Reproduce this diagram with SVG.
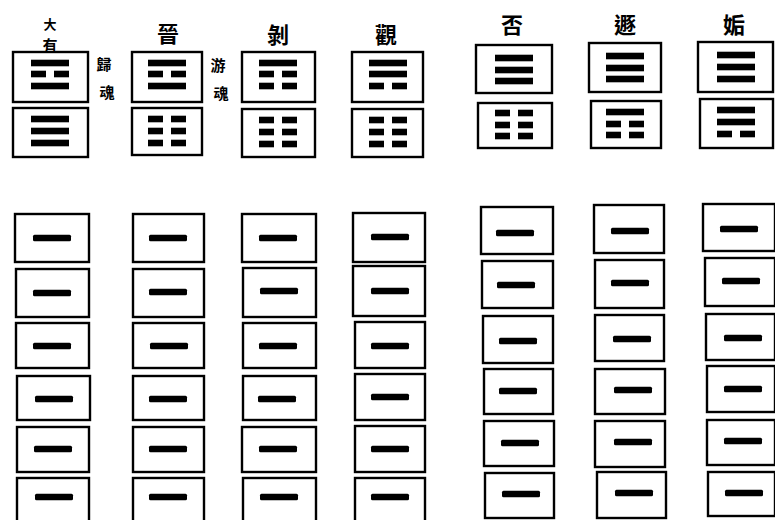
<svg xmlns="http://www.w3.org/2000/svg" width="775" height="520" viewBox="0 0 775 520">
<style>
.box{fill:#fff;stroke:#000;stroke-width:2.4}
.bar{fill:#000}
.t{font-family:"Noto Sans CJK TC","Noto Sans CJK SC",serif;font-weight:bold;fill:#000;text-anchor:middle}
.big{font-size:22px}
.sm{font-size:15px}
</style>
<defs>
<g id="yang"><rect x="-19" y="-3.3" width="38" height="6.6" class="bar"/></g>
<g id="yin"><rect x="-19" y="-3.3" width="15" height="6.6" class="bar"/><rect x="4" y="-3.3" width="15" height="6.6" class="bar"/></g>
<g id="line"><rect x="-19" y="-3.3" width="38" height="6.6" rx="1.5" class="bar"/></g>
</defs>
<rect width="775" height="520" fill="#fff"/>

<!-- labels -->
<g id="labels">
<text class="t" x="50" y="29" style="font-size:13px">大</text>
<text class="t" x="50" y="50.5" style="font-size:15px">有</text>
<text class="t sm" x="104" y="70">歸</text>
<text class="t sm" x="107" y="98">魂</text>
<text class="t big" x="168" y="42">晉</text>
<text class="t sm" x="218" y="71">游</text>
<text class="t sm" x="221" y="99">魂</text>
<text class="t big" x="278" y="43">剝</text>
<text class="t big" x="386" y="43">觀</text>
<text class="t big" x="512" y="33">否</text>
<text class="t big" x="625" y="33">遯</text>
<text class="t big" x="734" y="33">姤</text>
</g>

<!-- upper hexagrams -->
<g id="hex-dayou">
<rect class="box" x="13" y="52" width="75" height="50"/>
<use href="#yang" x="50" y="63"/><use href="#yin" x="50" y="74"/><use href="#yang" x="50" y="86"/>
<rect class="box" x="13" y="108" width="75" height="49"/>
<use href="#yang" x="50" y="119"/><use href="#yang" x="50" y="131"/><use href="#yang" x="50" y="143"/>
</g>
<g id="hex-jin">
<rect class="box" x="132" y="52" width="70" height="50"/>
<use href="#yang" x="167" y="63"/><use href="#yin" x="167" y="74"/><use href="#yang" x="167" y="86"/>
<rect class="box" x="132" y="108" width="70" height="47"/>
<use href="#yin" x="167" y="119"/><use href="#yin" x="167" y="131"/><use href="#yin" x="167" y="143"/>
</g>
<g id="hex-bo">
<rect class="box" x="242" y="52" width="73" height="50"/>
<use href="#yang" x="278" y="63"/><use href="#yin" x="278" y="74"/><use href="#yin" x="278" y="86"/>
<rect class="box" x="242" y="109" width="73" height="48"/>
<use href="#yin" x="278" y="120"/><use href="#yin" x="278" y="132"/><use href="#yin" x="278" y="144"/>
</g>
<g id="hex-guan">
<rect class="box" x="352" y="52" width="71" height="50"/>
<use href="#yang" x="388" y="63"/><use href="#yang" x="388" y="74"/><use href="#yin" x="388" y="86"/>
<rect class="box" x="352" y="109" width="71" height="48"/>
<use href="#yin" x="388" y="120"/><use href="#yin" x="388" y="132"/><use href="#yin" x="388" y="144"/>
</g>
<g id="hex-pi">
<rect class="box" x="476" y="45" width="76" height="48"/>
<use href="#yang" x="514" y="58"/><use href="#yang" x="514" y="70"/><use href="#yang" x="514" y="81"/>
<rect class="box" x="478" y="103" width="74" height="45"/>
<use href="#yin" x="514" y="113"/><use href="#yin" x="514" y="125"/><use href="#yin" x="514" y="136"/>
</g>
<g id="hex-dun">
<rect class="box" x="589" y="43" width="72" height="49"/>
<use href="#yang" x="625" y="56"/><use href="#yang" x="625" y="68"/><use href="#yang" x="625" y="79"/>
<rect class="box" x="591" y="101" width="70" height="47"/>
<use href="#yang" x="625" y="112"/><use href="#yin" x="625" y="124"/><use href="#yin" x="625" y="135"/>
</g>
<g id="hex-gou">
<rect class="box" x="698" y="42" width="75" height="50"/>
<use href="#yang" x="736" y="55"/><use href="#yang" x="736" y="67"/><use href="#yang" x="736" y="79"/>
<rect class="box" x="700" y="99" width="73" height="49"/>
<use href="#yang" x="736" y="110"/><use href="#yang" x="736" y="122"/><use href="#yin" x="736" y="134"/>
</g>

<!-- lower grid columns -->
<g id="col1">
<rect class="box" x="15" y="214" width="74" height="48"/><use href="#line" x="52" y="238"/>
<rect class="box" x="16" y="269" width="73" height="48"/><use href="#line" x="52" y="293"/>
<rect class="box" x="16" y="323" width="73" height="45"/><use href="#line" x="52" y="346"/>
<rect class="box" x="17" y="376" width="73" height="44"/><use href="#line" x="54" y="399"/>
<rect class="box" x="17" y="427" width="72" height="45"/><use href="#line" x="53" y="449"/>
<rect class="box" x="17" y="478" width="72" height="50"/><use href="#line" x="54" y="497"/>
</g>
<g id="col2">
<rect class="box" x="133" y="214" width="71" height="48"/><use href="#line" x="168" y="238"/>
<rect class="box" x="133" y="269" width="71" height="48"/><use href="#line" x="168" y="292"/>
<rect class="box" x="133" y="323" width="71" height="45"/><use href="#line" x="169" y="346"/>
<rect class="box" x="133" y="376" width="71" height="44"/><use href="#line" x="168" y="399"/>
<rect class="box" x="133" y="427" width="71" height="45"/><use href="#line" x="168" y="449"/>
<rect class="box" x="133" y="478" width="71" height="50"/><use href="#line" x="168" y="497"/>
</g>
<g id="col3">
<rect class="box" x="242" y="214" width="74" height="48"/><use href="#line" x="278" y="238"/>
<rect class="box" x="243" y="268" width="73" height="49"/><use href="#line" x="279" y="291"/>
<rect class="box" x="243" y="323" width="73" height="45"/><use href="#line" x="278" y="346"/>
<rect class="box" x="243" y="376" width="73" height="44"/><use href="#line" x="277" y="399"/>
<rect class="box" x="242" y="427" width="74" height="45"/><use href="#line" x="278" y="449"/>
<rect class="box" x="243" y="478" width="73" height="50"/><use href="#line" x="279" y="497"/>
</g>
<g id="col4">
<rect class="box" x="353" y="213" width="72" height="49"/><use href="#line" x="390" y="237"/>
<rect class="box" x="353" y="266" width="72" height="50"/><use href="#line" x="390" y="291"/>
<rect class="box" x="355" y="322" width="70" height="46"/><use href="#line" x="390" y="346"/>
<rect class="box" x="355" y="374" width="70" height="46"/><use href="#line" x="390" y="397"/>
<rect class="box" x="355" y="426" width="70" height="46"/><use href="#line" x="390" y="449"/>
<rect class="box" x="355" y="478" width="70" height="50"/><use href="#line" x="390" y="497"/>
</g>
<g id="col5">
<rect class="box" x="481" y="207" width="72" height="47"/><use href="#line" x="515" y="233"/>
<rect class="box" x="482" y="261" width="71" height="47"/><use href="#line" x="516" y="285"/>
<rect class="box" x="483" y="316" width="70" height="47"/><use href="#line" x="518" y="341"/>
<rect class="box" x="484" y="369" width="69" height="45"/><use href="#line" x="518" y="391"/>
<rect class="box" x="484" y="421" width="70" height="45"/><use href="#line" x="520" y="443"/>
<rect class="box" x="485" y="473" width="69" height="45"/><use href="#line" x="521" y="494"/>
</g>
<g id="col6">
<rect class="box" x="594" y="205" width="70" height="48"/><use href="#line" x="630" y="231"/>
<rect class="box" x="595" y="260" width="69" height="48"/><use href="#line" x="630" y="283"/>
<rect class="box" x="595" y="315" width="69" height="46"/><use href="#line" x="632" y="339"/>
<rect class="box" x="595" y="369" width="70" height="45"/><use href="#line" x="633" y="390"/>
<rect class="box" x="595" y="421" width="70" height="46"/><use href="#line" x="633" y="442"/>
<rect class="box" x="597" y="472" width="69" height="46"/><use href="#line" x="634" y="493"/>
</g>
<g id="col7">
<rect class="box" x="703" y="204" width="72" height="47"/><use href="#line" x="739" y="229"/>
<rect class="box" x="705" y="258" width="70" height="48"/><use href="#line" x="741" y="281"/>
<rect class="box" x="706" y="314" width="69" height="46"/><use href="#line" x="743" y="338"/>
<rect class="box" x="707" y="366" width="68" height="46"/><use href="#line" x="743" y="389"/>
<rect class="box" x="707" y="420" width="68" height="45"/><use href="#line" x="743" y="441"/>
<rect class="box" x="708" y="472" width="67" height="44"/><use href="#line" x="744" y="493"/>
</g>
</svg>
